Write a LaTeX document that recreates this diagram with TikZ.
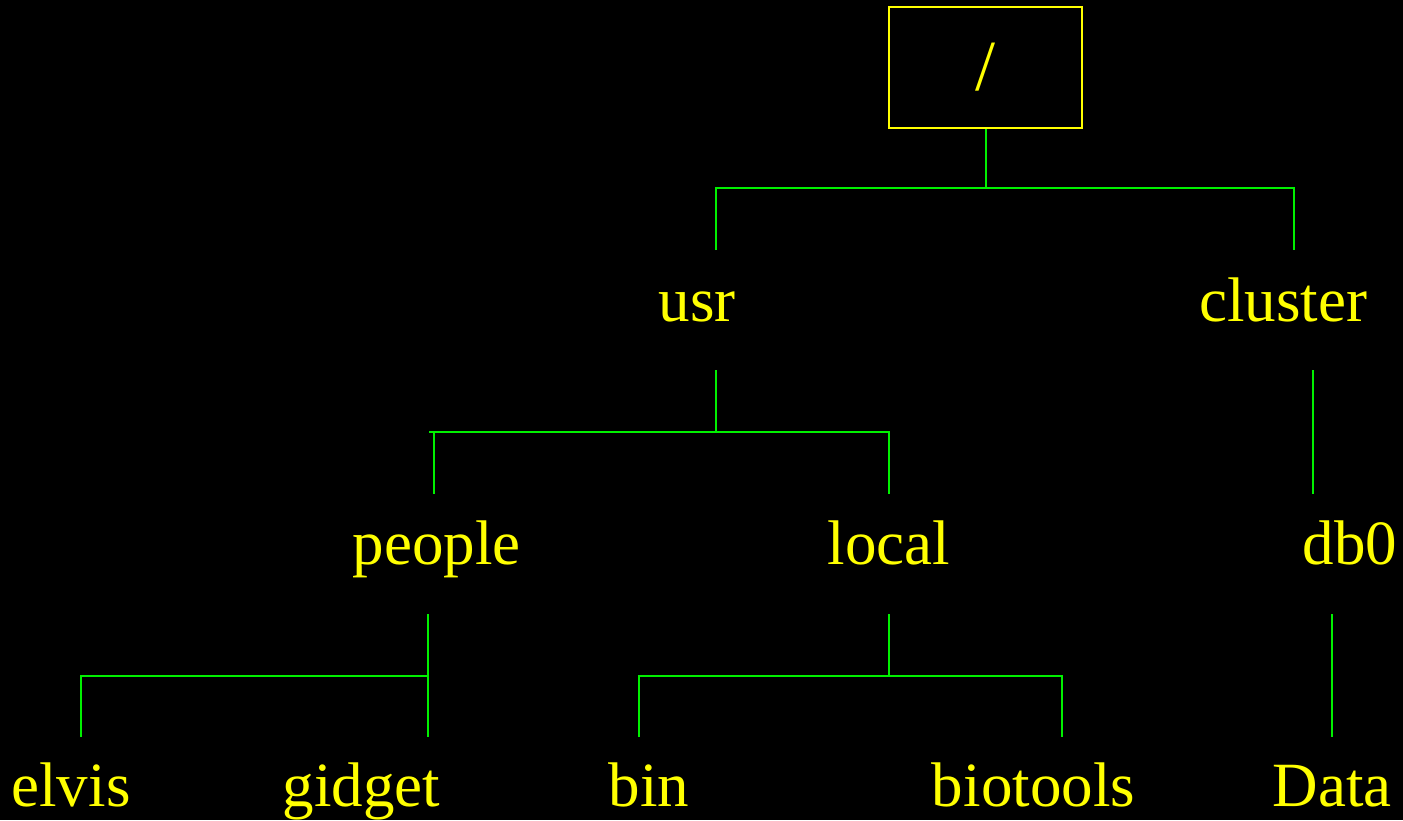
\documentclass[tikz,border=0pt]{standalone}
\usepackage{fontspec}
\setmainfont{Liberation Serif}
\definecolor{dirtext}{RGB}{255,255,0}
\definecolor{branch}{RGB}{0,240,0}
\begin{document}
\begin{tikzpicture}[x=1pt,y=-1pt,
  dir/.style={text=dirtext, font=\fontsize{63}{70}\selectfont, inner sep=0pt, anchor=base},
  rootbox/.style={draw=dirtext, line width=2pt, text=dirtext, font=\fontsize{72}{80}\selectfont,
    minimum width=193pt, minimum height=121pt, inner sep=0pt},
  link/.style={draw=branch, line width=2pt}]
  % canvas
  \fill[black] (0,0) rectangle (1403,820);
  \useasboundingbox (0,0) rectangle (1403,820);

  % directories
  \node[rootbox] (root) at (985.5,67.5) {/};
  \node[dir] (usr) at (697,321) {usr};
  \node[dir] (cluster) at (1283,321) {cluster};
  \node[dir] (people) at (436.5,564) {people};
  \node[dir] (local) at (889,564) {local};
  \node[dir] (db0) at (1350,564) {db0};
  \node[dir] (elvis) at (71,806) {elvis};
  \node[dir] (gidget) at (361.5,806) {gidget};
  \node[dir] (bin) at (649,806) {bin};
  \node[dir] (biotools) at (1033.5,806) {biotools};
  \node[dir] (Data) at (1332,806) {Data};

  % branch points
  \coordinate (rootJ) at (985.5,188);
  \coordinate (usrL) at (716,188);
  \coordinate (clR) at (1294,188);
  \coordinate (usrIn) at (716,250);
  \coordinate (clIn) at (1294,250);

  \coordinate (usrOut) at (716,370);
  \coordinate (usrJ) at (716,432);
  \coordinate (usrBarL) at (429,432);
  \coordinate (peL) at (434,432);
  \coordinate (loR) at (889,432);
  \coordinate (peIn) at (434,494);
  \coordinate (loIn) at (889,494);

  \coordinate (clOut) at (1313,370);
  \coordinate (dbIn) at (1313,494);

  \coordinate (peOut) at (428,614);
  \coordinate (peJ) at (428,676);
  \coordinate (elL) at (81,676);
  \coordinate (elIn) at (81,737);
  \coordinate (giIn) at (428,737);

  \coordinate (loOut) at (889,614);
  \coordinate (loJ) at (889,676);
  \coordinate (biL) at (639,676);
  \coordinate (btR) at (1062,676);
  \coordinate (biIn) at (639,737);
  \coordinate (btIn) at (1062,737);

  \coordinate (dbOut) at (1332,614);
  \coordinate (daIn) at (1332,737);

  % connectors
  \draw[link] (root.south) -- (rootJ);
  \draw[link] (usrIn) -- (usrL) -- (clR) -- (clIn);

  \draw[link] (usrOut) -- (usrJ);
  \draw[link] (usrBarL) -- (loR) -- (loIn);
  \draw[link] (peL) -- (peIn);

  \draw[link] (clOut) -- (dbIn);

  \draw[link] (peOut) -- (giIn);
  \draw[link] (elIn) -- (elL) -- (peJ);

  \draw[link] (loOut) -- (loJ);
  \draw[link] (biIn) -- (biL) -- (btR) -- (btIn);

  \draw[link] (dbOut) -- (daIn);
\end{tikzpicture}
\end{document}
